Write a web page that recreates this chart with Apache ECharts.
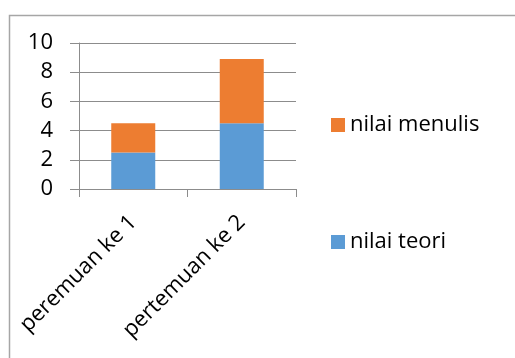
<!DOCTYPE html>
<html>
<head>
<meta charset="utf-8">
<script src="https://cdn.jsdelivr.net/npm/echarts@6/dist/echarts.min.js"></script>
<style>
  html, body { margin: 0; padding: 0; background: #fff; }
  #chart { width: 515px; height: 358px; }
</style>
</head>
<body>
<div id="chart"></div>
<script>
// Meeting categories and the two stacked score components
const categories = ['peremuan ke 1', 'pertemuan ke 2'];
const nilaiTeori = [2.5, 4.5];
const nilaiMenulis = [2.0, 4.4];
const yTicks = { min: 0, max: 10, interval: 2 };

const FONT = '"Open Sans", sans-serif';
const AXIS_GREY = '#8c8c8c';

const chart = echarts.init(document.getElementById('chart'));
chart.setOption({
  animation: false,
  backgroundColor: '#ffffff',
  textStyle: { fontFamily: FONT },
  graphic: [{
    type: 'rect',
    left: 7, top: 13,
    shape: { width: 530, height: 360 },
    style: { fill: 'none', stroke: '#a6a6a6', lineWidth: 1.5 },
    z: 0
  }],
  grid: {
    left: 79, right: 219, top: 43, bottom: 169,
    containLabel: false, outerBoundsMode: 'none'
  },
  legend: {
    orient: 'vertical',
    left: 326, top: 109,
    itemWidth: 14, itemHeight: 14,
    itemGap: 95,
    itemStyle: { borderWidth: 0 },
    icon: 'rect',
    data: ['nilai menulis', 'nilai teori'],
    textStyle: { fontFamily: FONT, fontSize: 22, color: '#000' }
  },
  xAxis: {
    type: 'category',
    data: categories,
    boundaryGap: true,
    axisLine: { show: true, lineStyle: { color: AXIS_GREY, width: 1 } },
    axisTick: { show: true, alignWithLabel: false, length: 8, lineStyle: { color: AXIS_GREY } },
    axisLabel: { rotate: 45, fontFamily: FONT, fontSize: 22, color: '#000', margin: 30 }
  },
  yAxis: {
    type: 'value',
    min: yTicks.min, max: yTicks.max, interval: yTicks.interval,
    axisLine: { show: true, lineStyle: { color: AXIS_GREY, width: 1 } },
    axisTick: { show: true, length: 9, lineStyle: { color: AXIS_GREY } },
    axisLabel: { fontFamily: FONT, fontSize: 22, color: '#000', margin: 26 },
    splitLine: { show: true, lineStyle: { color: AXIS_GREY, width: 1 } }
  },
  series: [
    {
      name: 'nilai teori', type: 'bar', stack: 'total',
      data: nilaiTeori, barWidth: 44,
      itemStyle: { color: '#5b9bd5' }
    },
    {
      name: 'nilai menulis', type: 'bar', stack: 'total',
      data: nilaiMenulis, barWidth: 44,
      itemStyle: { color: '#ed7d31' }
    }
  ]
});
</script>
</body>
</html>
